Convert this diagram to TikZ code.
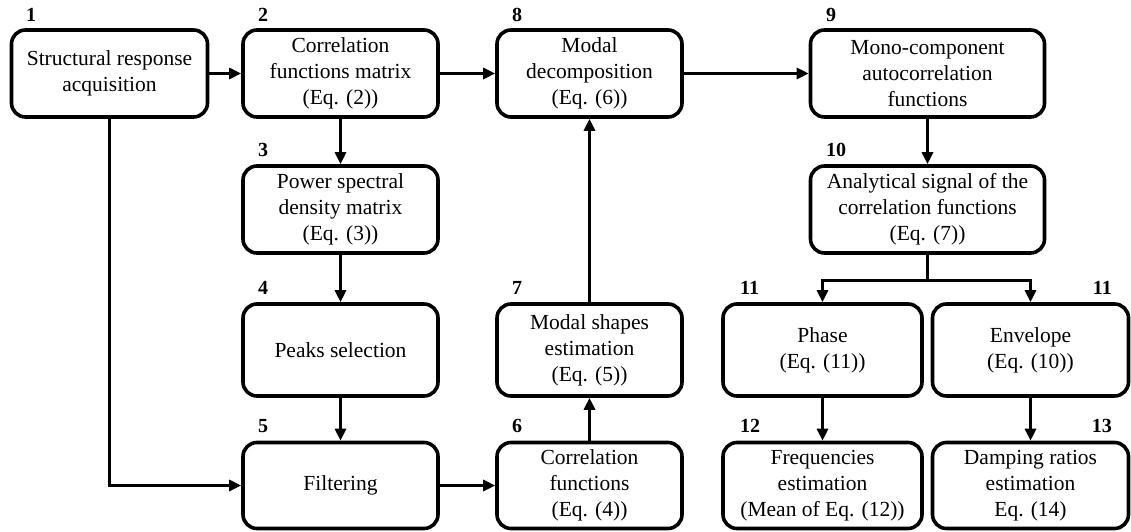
\documentclass[tikz,border=0pt]{standalone}
\usepackage{fontspec}
\setmainfont{Liberation Serif}
\usetikzlibrary{arrows.meta}
\begin{document}
\begin{tikzpicture}[x=1pt,y=-1pt,
  box/.style={draw, line width=3.6pt, rounded corners=14pt, align=center, inner sep=0pt,
    font=\rmfamily\fontsize{21.5}{26}\selectfont},
  num/.style={font=\rmfamily\fontsize{20}{24}\selectfont\bfseries, inner sep=0pt},
  conn/.style={line width=3.6pt},
  arr/.style={conn, -{Triangle[length=12pt,width=11pt]}}]
\useasboundingbox (0,0) rectangle (1131,532);
% boxes
\node[box, minimum width=196pt, minimum height=87pt] (b1) at (109.5,73.5) {Structural response\\acquisition};
\node[box, minimum width=195pt, minimum height=87pt] (b2) at (340.5,73.5) {Correlation\\functions matrix\\(Eq. (2))};
\node[box, minimum width=195pt, minimum height=87pt] (b3) at (340.5,209.5) {Power spectral\\density matrix\\(Eq. (3))};
\node[box, minimum width=195pt, minimum height=92pt] (b4) at (340.5,350) {Peaks selection};
\node[box, minimum width=195pt, minimum height=86pt] (b5) at (340.5,485.5) {Filtering};
\node[box, minimum width=185pt, minimum height=86pt] (b6) at (589.5,485.5) {Correlation\\functions\\(Eq. (4))};
\node[box, minimum width=185pt, minimum height=92pt] (b7) at (589.5,350) {Modal shapes\\estimation\\(Eq. (5))};
\node[box, minimum width=185pt, minimum height=87pt] (b8) at (589.5,73.5) {Modal\\decomposition\\(Eq. (6))};
\node[box, minimum width=234pt, minimum height=87pt] (b9) at (927.5,73.5) {Mono-component\\autocorrelation\\functions};
\node[box, minimum width=234pt, minimum height=87pt] (b10) at (927.5,209.5) {Analytical signal of the\\correlation functions\\(Eq. (7))};
\node[box, minimum width=199pt, minimum height=92pt] (b11a) at (822.5,350) {Phase\\(Eq. (11))};
\node[box, minimum width=196pt, minimum height=92pt] (b11b) at (1030.5,350) {Envelope\\(Eq. (10))};
\node[box, minimum width=199pt, minimum height=86pt] (b12) at (822.5,485.5) {Frequencies\\estimation\\(Mean of Eq. (12))};
\node[box, minimum width=196pt, minimum height=86pt] (b13) at (1030.5,485.5) {Damping ratios\\estimation\\Eq. (14)};
% numbers
\node[num, anchor=west] (n1) at (26,15) {1};
\node[num, anchor=west] (n2) at (258,15) {2};
\node[num, anchor=west] (n3) at (258,150) {3};
\node[num, anchor=west] (n4) at (258,288) {4};
\node[num, anchor=west] (n5) at (258,426) {5};
\node[num, anchor=west] (n6) at (512,426) {6};
\node[num, anchor=west] (n7) at (512,288) {7};
\node[num, anchor=west] (n8) at (512,15) {8};
\node[num, anchor=west] (n9) at (826,15) {9};
\node[num, anchor=west] (n10) at (826,150) {10};
\node[num, anchor=west] (n11a) at (740,288) {11};
\node[num, anchor=east] (n11b) at (1112,288) {11};
\node[num, anchor=west] (n12) at (740,426) {12};
\node[num, anchor=east] (n13) at (1112,426) {13};
% connectors
\draw[arr] (b1.east) -- (b2.west);
\draw[arr] (b2.east) -- (b8.west);
\draw[arr] (b8.east) -- (b9.west);
\draw[arr] (b2.south) -- (b3.north);
\draw[arr] (b3.south) -- (b4.north);
\draw[arr] (b4.south) -- (b5.north);
\draw[arr] (b1.south) |- (b5.west);
\draw[arr] (b5.east) -- (b6.west);
\draw[arr] (b6.north) -- (b7.south);
\draw[arr] (b7.north) -- (b8.south);
\draw[arr] (b9.south) -- (b10.north);
\coordinate (br) at (927.5,280.5);
\draw[conn] (b10.south) -- (br);
\draw[arr] (br) -| (b11a.north);
\draw[arr] (br) -| (b11b.north);
\draw[arr] (b11a.south) -- (b12.north);
\draw[arr] (b11b.south) -- (b13.north);
\end{tikzpicture}
\end{document}
